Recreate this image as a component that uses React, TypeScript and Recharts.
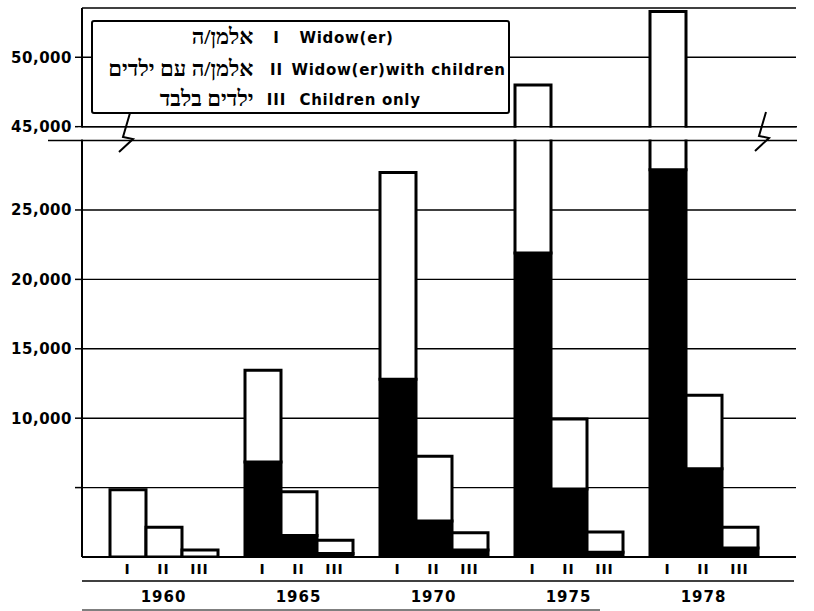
import React from "react";
import { BarChart, Bar, XAxis, YAxis, CartesianGrid, Legend } from "recharts";

const years = ["1960", "1965", "1970", "1975", "1978"];

// totals = full height of bar, black = filled lower part
const widowTotal = [4850, 13450, 27700, 48000, 53300];
const widowBlack = [0, 6850, 12800, 21900, 27900];
const withChildrenTotal = [2150, 4700, 7250, 9950, 11650];
const withChildrenBlack = [0, 1550, 2600, 4900, 6350];
const childrenOnlyTotal = [500, 1200, 1750, 1800, 2150];
const childrenOnlyBlack = [0, 250, 500, 350, 650];

const numerals = ["I", "II", "III"];
const legendHebrew = ["אלמן/ה", "אלמן/ה עם ילדים", "ילדים בלבד"];
const legendEnglish = ["Widow(er)", "Widow(er)with children", "Children only"];

const yTicks = [5000, 10000, 15000, 20000, 25000, 45000, 50000];
const yTickLabels = ["", "10,000", "15,000", "20,000", "25,000", "45,000", "50,000"];

// broken axis: everything above BREAK_LOW is shifted down by BREAK_SHIFT
const BREAK_LOW = 30000;
const BREAK_SHIFT = 14000;
const Y_MAX = 39550;

const compress = (v: number) => (v > BREAK_LOW ? v - BREAK_SHIFT : v);

const W = 814;
const H = 611;
const PLOT_LEFT = 82;
const PLOT_RIGHT = 796;
const PLOT_TOP = 8;
const PLOT_BOTTOM = 557;
const BAR_W = 36;

const yPx = (plotted: number) =>
  PLOT_TOP + (1 - plotted / Y_MAX) * (PLOT_BOTTOM - PLOT_TOP);

const data = years.map((year, i) => ({
  year,
  iBlack: widowBlack[i],
  iWhite: compress(widowTotal[i]) - widowBlack[i],
  iiBlack: withChildrenBlack[i],
  iiWhite: compress(withChildrenTotal[i]) - withChildrenBlack[i],
  iiiBlack: childrenOnlyBlack[i],
  iiiWhite: compress(childrenOnlyTotal[i]) - childrenOnlyBlack[i],
}));

const plottedTicks = yTicks.map(compress);

const FONT = "'DejaVu Sans', Verdana, sans-serif";

function YearTick(props: any) {
  const { x, y, payload } = props;
  return (
    <g>
      {numerals.map((n, k) => (
        <text
          key={n}
          x={x + (k - 1) * BAR_W}
          y={y + 17}
          textAnchor="middle"
          fontFamily={FONT}
          fontWeight={700}
          fontSize={14}
          letterSpacing={1}
          fill="#000"
        >
          {n}
        </text>
      ))}
      <text
        x={x}
        y={y + 45}
        textAnchor="middle"
        fontFamily={FONT}
        fontWeight={700}
        fontSize={15}
        letterSpacing={1}
        fill="#000"
      >
        {payload.value}
      </text>
    </g>
  );
}

const rowCenters = [18, 50, 80];
const BOX_LEFT = 91;
const BOX_TOP = 20;
const BOX_W = 419;
const BOX_H = 94;
const BORDER = 2.5;

function LegendBox() {
  return (
    <div
      style={{
        position: "relative",
        width: BOX_W,
        height: BOX_H,
        boxSizing: "border-box",
        border: `${BORDER}px solid #000`,
        borderRadius: 3,
        background: "#fff",
        color: "#000",
      }}
    >
      {numerals.map((n, k) => {
        const top = rowCenters[k] - 10 - BORDER;
        return (
          <React.Fragment key={n}>
            <span
              style={{
                position: "absolute",
                right: BOX_LEFT + BOX_W - 253 - BORDER,
                top: top - 2,
                lineHeight: "22px",
                direction: "rtl",
                whiteSpace: "nowrap",
                fontFamily: "'Liberation Serif', 'DejaVu Sans', serif",
                fontWeight: 700,
                fontSize: 22,
              }}
            >
              {legendHebrew[k]}
            </span>
            <span
              style={{
                position: "absolute",
                left: 277 - 12 - BOX_LEFT - BORDER,
                width: 24,
                textAlign: "center",
                top,
                lineHeight: "20px",
                fontFamily: FONT,
                fontWeight: 700,
                fontSize: 15,
                letterSpacing: 1,
              }}
            >
              {n}
            </span>
            <span
              style={{
                position: "absolute",
                left: (k === 1 ? 292 : 300) - BOX_LEFT - BORDER,
                top,
                lineHeight: "20px",
                whiteSpace: "nowrap",
                fontFamily: FONT,
                fontWeight: 700,
                fontSize: 15,
                letterSpacing: 0.7,
              }}
            >
              {legendEnglish[k]}
            </span>
          </React.Fragment>
        );
      })}
    </div>
  );
}

export default function App() {
  const gapTop = yPx(compress(45000));
  const gapBottom = yPx(BREAK_LOW);
  return (
    <div style={{ position: "absolute", left: 0, top: 0, width: W, height: H, background: "#fff" }}>
      <BarChart
        width={W}
        height={H}
        data={data}
        margin={{ top: PLOT_TOP, right: W - PLOT_RIGHT, bottom: 0, left: 0 }}
        barGap={0}
        barSize={BAR_W}
      >
        <CartesianGrid vertical={false} stroke="#000" strokeWidth={1.4} />
        <XAxis
          dataKey="year"
          height={H - PLOT_BOTTOM}
          interval={0}
          tickLine={false}
          tickSize={0}
          tickMargin={0}
          padding={{ left: 14, right: 25 }}
          axisLine={{ stroke: "#000", strokeWidth: 2 }}
          tick={<YearTick />}
        />
        <YAxis
          type="number"
          width={PLOT_LEFT}
          domain={[0, Y_MAX]}
          allowDataOverflow
          ticks={plottedTicks}
          interval={0}
          tickSize={7}
          tickMargin={3}
          axisLine={{ stroke: "#000", strokeWidth: 2 }}
          tickLine={{ stroke: "#000", strokeWidth: 1.5 }}
          tick={{ fill: "#000", fontSize: 15, fontWeight: 700, fontFamily: FONT, letterSpacing: 0.5 }}
          tickFormatter={(v: number) => yTickLabels[plottedTicks.indexOf(v)] ?? ""}
        />
        <Legend
          layout="horizontal"
          verticalAlign="middle"
          align="center"
          wrapperStyle={{ left: BOX_LEFT, top: BOX_TOP, width: BOX_W, height: BOX_H }}
          content={() => <LegendBox />}
        />
        <Bar dataKey="iBlack" stackId="I" fill="#000" stroke="#000" strokeWidth={3} isAnimationActive={false} />
        <Bar dataKey="iWhite" stackId="I" fill="#fff" stroke="#000" strokeWidth={3} isAnimationActive={false} />
        <Bar dataKey="iiBlack" stackId="II" fill="#000" stroke="#000" strokeWidth={3} isAnimationActive={false} />
        <Bar dataKey="iiWhite" stackId="II" fill="#fff" stroke="#000" strokeWidth={3} isAnimationActive={false} />
        <Bar dataKey="iiiBlack" stackId="III" fill="#000" stroke="#000" strokeWidth={3} isAnimationActive={false} />
        <Bar dataKey="iiiWhite" stackId="III" fill="#fff" stroke="#000" strokeWidth={3} isAnimationActive={false} />
      </BarChart>

      {/* axis break, zigzags and the rules under the x axis */}
      <svg
        width={W}
        height={H}
        style={{ position: "absolute", left: 0, top: 0, pointerEvents: "none" }}
      >
        <rect x={78} y={gapTop + 1} width={PLOT_RIGHT + 2 - 78} height={gapBottom - gapTop - 2} fill="#fff" />
        <line x1={PLOT_LEFT} x2={PLOT_RIGHT + 1} y1={gapTop} y2={gapTop} stroke="#000" strokeWidth={1.5} />
        <line x1={48} x2={PLOT_RIGHT + 1} y1={gapBottom} y2={gapBottom} stroke="#000" strokeWidth={1.5} />
        <polyline
          points={`130,113 123,137 133,139 119,152`}
          fill="none"
          stroke="#000"
          strokeWidth={2}
          strokeLinejoin="miter"
        />
        <polyline
          points={`766,112 759,136 769,138 755,151`}
          fill="none"
          stroke="#000"
          strokeWidth={2}
          strokeLinejoin="miter"
        />
        <line x1={PLOT_LEFT} x2={PLOT_RIGHT - 2} y1={581} y2={581} stroke="#000" strokeWidth={1.5} />
        <line x1={PLOT_LEFT} x2={600} y1={610} y2={610} stroke="#000" strokeWidth={1.2} />
      </svg>
    </div>
  );
}
